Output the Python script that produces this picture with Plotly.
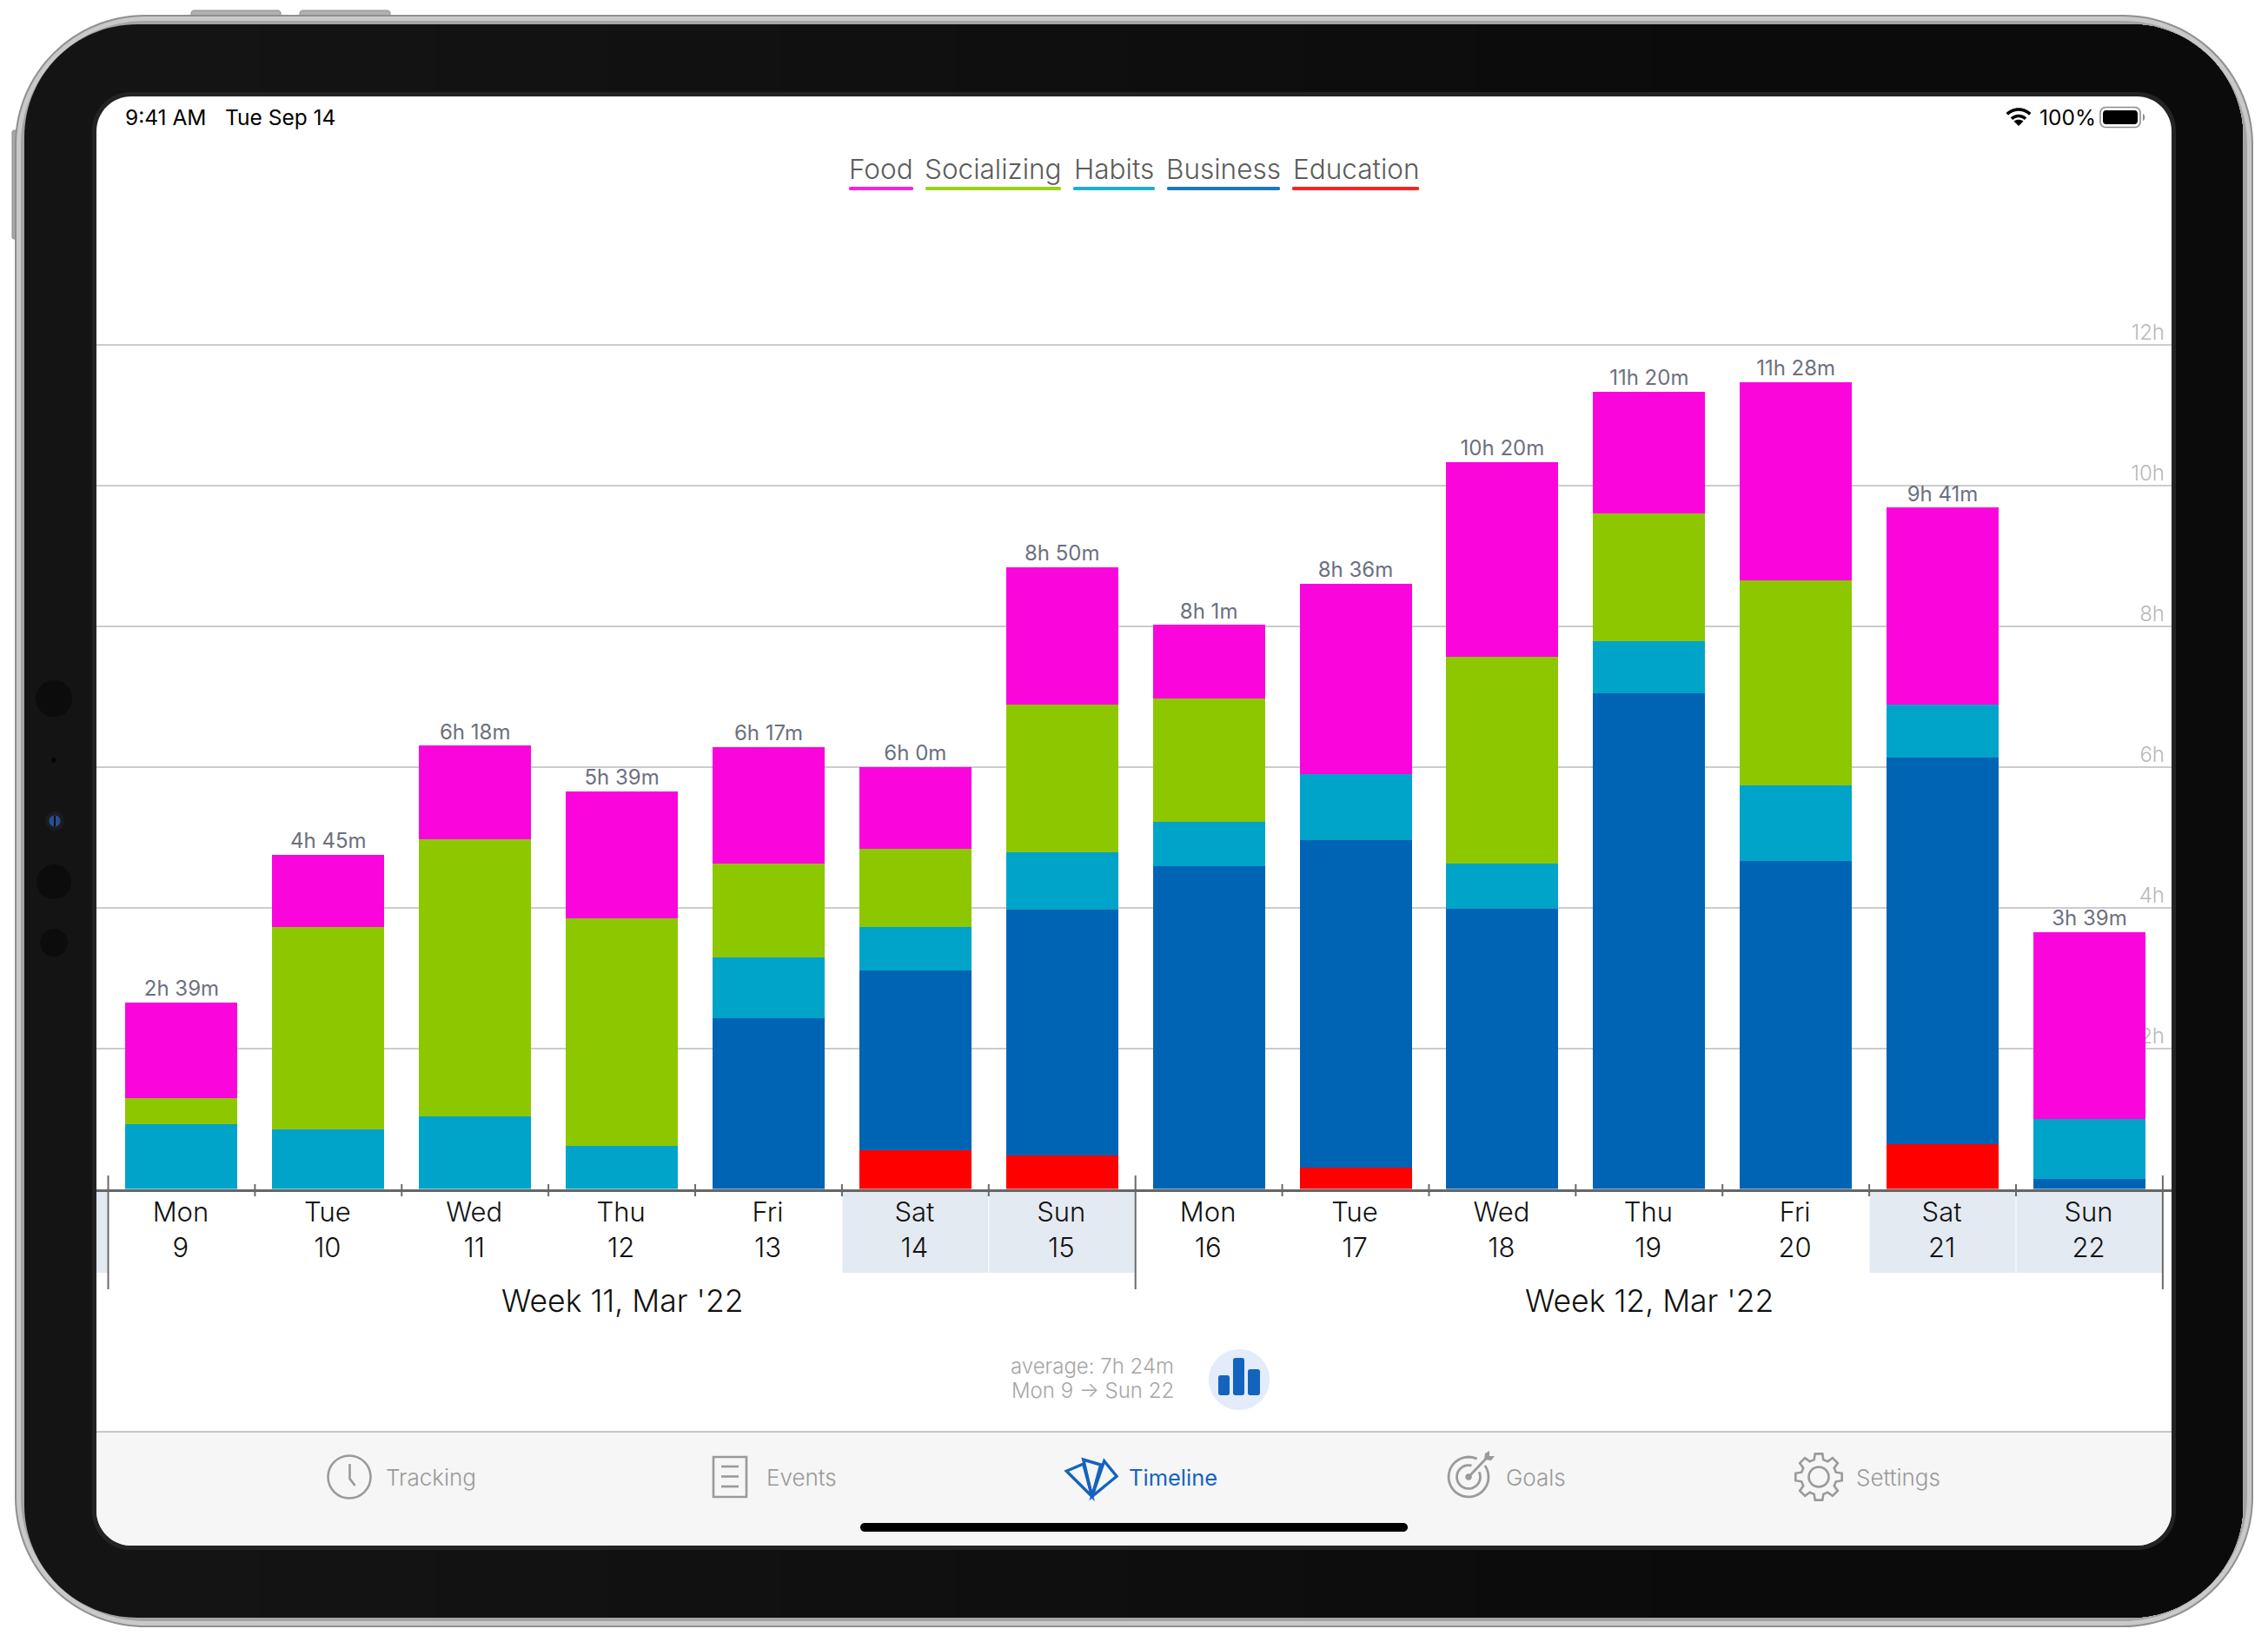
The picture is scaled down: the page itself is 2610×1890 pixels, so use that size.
import re, math
import plotly.graph_objects as go

W, H = 2610, 1890
FONT = "Inter"

days = ["Mon", "Tue", "Wed", "Thu", "Fri", "Sat", "Sun", "Mon", "Tue", "Wed", "Thu", "Fri", "Sat", "Sun"]
dates = [9, 10, 11, 12, 13, 14, 15, 16, 17, 18, 19, 20, 21, 22]
total_labels = ["2h 39m", "4h 45m", "6h 18m", "5h 39m", "6h 17m", "6h 0m", "8h 50m",
                "8h 1m", "8h 36m", "10h 20m", "11h 20m", "11h 28m", "9h 41m", "3h 39m"]
education = [0, 0, 0, 0, 0, 0.555, 0.473, 0, 0.308, 0, 0, 0, 0.637, 0]
business = [0, 0, 0, 0, 2.425, 2.548, 3.493, 4.583, 4.645, 3.987, 7.049, 4.665, 5.487, 0.136]
habits = [0.925, 0.843, 1.03, 0.617, 0.863, 0.617, 0.822, 0.637, 0.945, 0.637, 0.74, 1.069, 0.76, 0.864]
socializing = [0.37, 2.877, 3.94, 3.226, 1.336, 1.11, 2.096, 1.747, 0, 2.939, 1.808, 2.918, 0, 0]
food = [1.355, 1.03, 1.33, 1.807, 1.659, 1.17, 1.949, 1.05, 2.702, 2.77, 1.736, 2.815, 2.799, 2.65]
y_ticks = [2, 4, 6, 8, 10, 12]
y_tick_labels = ["2h", "4h", "6h", "8h", "10h", "12h"]
legend_names = ["Food", "Socializing", "Habits", "Business", "Education"]
legend_colors = ["#FF1EDC", "#9AD219", "#1EB0D2", "#1C78C0", "#FF2020"]
legend_spans = [(977, 1051), (1065, 1221), (1235, 1329), (1343, 1473), (1487, 1633)]
weeks = ["Week 11, Mar '22", "Week 12, Mar '22"]
week_centers = [3, 10]
weekend_idx = [5, 6, 12, 13]
week_bounds = [-0.5, 6.5, 13.5]

categories = [f"{d}<br>{n}" for d, n in zip(days, dates)]


def to_hours(s):
    h, m = s.split()
    return int(h[:-1]) + int(m[:-1]) / 60


totals = [to_hours(s) for s in total_labels]
LABEL_GAP = 0.02  # hours between bar top and its total label

# ---------- pixel helpers for the device frame and icons ----------
def px(x):
    return x / W


def py(y):
    return 1 - y / H


def P(s):
    out, i = [], 0
    for tok in s.split():
        if tok.isalpha():
            out.append(tok)
        else:
            v = float(tok)
            out.append(f"{(px(v) if i % 2 == 0 else py(v)):.6f}")
            i += 1
    return " ".join(out)


def rr(x0, y0, x1, y1, r):
    c = r * 0.4477
    return (f"M {x0+r} {y0} L {x1-r} {y0} C {x1-c} {y0} {x1} {y0+c} {x1} {y0+r} "
            f"L {x1} {y1-r} C {x1} {y1-c} {x1-c} {y1} {x1-r} {y1} "
            f"L {x0+r} {y1} C {x0+c} {y1} {x0} {y1-c} {x0} {y1-r} "
            f"L {x0} {y0+r} C {x0} {y0+c} {x0+c} {y0} {x0+r} {y0} Z")


def right_part(x0, y0, x1, y1, r):
    c = r * 0.4477
    return (f"M {x0} {y0} L {x1-r} {y0} C {x1-c} {y0} {x1} {y0+c} {x1} {y0+r} "
            f"L {x1} {y1-r} C {x1} {y1-c} {x1-c} {y1} {x1-r} {y1} L {x0} {y1} Z")


def circ(cx, cy, r):
    return rr(cx - r, cy - r, cx + r, cy + r, r)


def arc(cx, cy, r, a0, a1, n=28):
    pts = []
    for i in range(n + 1):
        a = math.radians(a0 + (a1 - a0) * i / n)
        pts.append((cx + r * math.sin(a), cy - r * math.cos(a)))
    return "M " + " L ".join(f"{x:.2f} {y:.2f}" for x, y in pts)


def S(path, fill=None, line=None, w=0):
    d = dict(type="path", xref="paper", yref="paper", path=P(path), layer="below",
             line=dict(color=line or "rgba(0,0,0,0)", width=w))
    d["fillcolor"] = fill or "rgba(0,0,0,0)"
    return d


shapes = []
# side buttons
shapes += [S(rr(220, 12, 323, 24, 3), "#b0b0b0", "#8c8c8c", 1),
           S(rr(345, 12, 449, 24, 3), "#b0b0b0", "#8c8c8c", 1),
           S(rr(14, 150, 24, 275, 2), "#a8a8a8", "#8c8c8c", 1)]
# body
shapes += [S(rr(17, 17, 2593, 1873, 150), "#8f8f8f"),
           S(rr(19, 19, 2591, 1871, 148), "#c9c9c9"),
           S(rr(24, 24, 2586, 1866, 143), "#a4a4a4"),
           S(rr(28, 28, 2581, 1862, 130), "#141414")]
# black glass darkens slightly to the right
for step, xk in enumerate(range(300, 2100, 200)):
    level = 0x13 - step
    shapes.append(S(right_part(xk, 28, 2581, 1862, 130), f"#{level:02x}{level:02x}{level:02x}"))
shapes += [S(rr(106, 106, 2504, 1784, 44), "#232323"),
           S(rr(111, 111, 2499, 1779, 40), "#ffffff")]
# bottom bar
shapes.append(S("M 111 1648 L 2499 1648 L 2499 1739 C 2499 1761 2481 1779 2459 1779 "
                "L 151 1779 C 129 1779 111 1761 111 1739 Z", "#f6f6f6"))
shapes.append(S("M 111 1648 L 2499 1648", None, "#b5b5b5", 1.5))
# sensors
for cx, cy, r in [(62, 804, 21), (62, 1015, 20), (62, 1085, 16)]:
    shapes.append(S(circ(cx, cy, r), "#0c0c0c"))
shapes += [S(circ(62, 875, 3), "#060606"), S(circ(63, 945, 11), "#1c1c20"),
           S(circ(63, 945, 6.5), "#24508f"),
           S("M 63 939 L 63 951", None, "#0a0a12", 2)]
# home indicator
shapes.append(S(rr(990, 1753, 1620, 1763, 5), "#000000"))
# status bar icons
shapes += [S(arc(2323, 145, 19, -44, 44), None, "#000000", 3.6),
           S(arc(2323, 145, 11.5, -44, 44), None, "#000000", 3.6),
           S("M 2323 145 L 2317.5 139.5 C 2320.5 137 2325.5 137 2328.5 139.5 Z", "#000000"),
           S(rr(2417, 123.5, 2463, 146.5, 6), None, "#8c8c8c", 1.6),
           S(rr(2420, 127, 2460, 143, 3.5), "#000000"),
           S("M 2466 131 C 2469 132 2469 138 2466 139 Z", "#8c8c8c")]
# mini bar icon
BLUE = "#1464BE"
shapes += [S(circ(1426, 1588, 35), "#E4EBFA"),
           S(rr(1402, 1583, 1415, 1606, 2.5), BLUE),
           S(rr(1419, 1563, 1432, 1606, 2.5), BLUE),
           S(rr(1436, 1576, 1450, 1606, 2.5), BLUE)]
# tab icons
GREY = "#9a9a9a"
shapes += [S(circ(402, 1700, 24.5), None, GREY, 2.6),
           S("M 402.5 1685 L 402.5 1702 L 408.5 1710", None, GREY, 2.6),
           S("M 821 1677 L 859 1677 L 859 1723 L 821 1723 Z", None, GREY, 2.6)]
for y in (1688, 1699.5, 1711):
    shapes.append(S(f"M 830 {y} L 850 {y}", None, GREY, 2.6))
shapes += [S("M 1256.7 1722.5 L 1227.3 1693.3 L 1246.7 1685 Z", None, BLUE, 3.4),
           S("M 1256.7 1722.5 L 1246.7 1680 L 1266.7 1686 Z", None, BLUE, 3.4),
           S("M 1256.7 1722.5 L 1270.7 1681.7 L 1285 1699.3 Z", None, BLUE, 3.4)]
shapes += [S(arc(1690, 1700, 23, 55, 385), None, GREY, 2.8),
           S(arc(1690, 1700, 13.5, 65, 375), None, GREY, 2.8),
           S(circ(1690, 1700, 3.8), GREY),
           S("M 1690 1700 L 1711 1678", None, GREY, 2.8),
           S("M 1708 1680 L 1709 1673 L 1714 1670 L 1714 1676 L 1720 1676 L 1716 1681 Z", GREY)]
gear_pts = []
for t in range(8):
    a = t * 45
    for da, r in [(-15, 20.5), (-9, 27), (9, 27), (15, 20.5)]:
        rad = math.radians(a + da)
        gear_pts.append((2093 + r * math.sin(rad), 1700 - r * math.cos(rad)))
shapes += [S("M " + " L ".join(f"{x:.2f} {y:.2f}" for x, y in gear_pts) + " Z", None, GREY, 2.6),
           S(circ(2093, 1700, 11.5), None, GREY, 2.6)]
# legend underlines
for (x0, x1), c in zip(legend_spans, legend_colors):
    shapes.append(S(rr(x0, 215, x1, 219, 1.5), c))


# weekend backgrounds: x from the axis, vertical extent in page position
def band(x0, x1):
    return dict(type="rect", xref="x", yref="paper", x0=x0, x1=x1, y0=py(1371), y1=py(1465),
                fillcolor="#E4EAF1", line=dict(width=0), layer="below")


shapes.append(band(-0.58, -0.5))
for i in weekend_idx:
    shapes.append(band(i - 0.5 + 0.003, i + 0.5 - 0.003))
# ticks on day boundaries, taller dividers between weeks
for b in range(14 + 1):
    pos = b - 0.5
    tall = pos in week_bounds
    shapes.append(dict(type="line", xref="x", yref="paper", x0=pos, x1=pos,
                       y0=py(1353 if tall else 1363), y1=py(1484 if tall else 1377),
                       line=dict(color="#6a6a6a", width=2), layer="below"))

# ---------- text ----------
def note(text, x, y, size, color, weight=400, anchor="center", xref="paper"):
    return dict(text=text, x=px(x) if xref == "paper" else x, y=py(y), xref=xref, yref="paper",
                showarrow=False, xanchor=anchor, yanchor="middle",
                font=dict(family=FONT, size=size, color=color, weight=weight))


annotations = [
    note("9:41 AM", 142, 134.5, 24.5, "#000000", anchor="left"),
    note("Tue Sep 14", 257, 134.5, 24.5, "#000000", anchor="left"),
    note("100%", 2345, 134.5, 24.5, "#000000", anchor="left"),
    note("average: 7h 24m", 1257, 1572.5, 24, "#a6a6a6", 300),
    note("Mon 9 → Sun 22", 1257, 1600.5, 24, "#a6a6a6", 300),
    note("Tracking", 442, 1700.5, 26, GREY, 300, "left"),
    note("Events", 880, 1700.5, 26, GREY, 300, "left"),
    note("Timeline", 1297, 1700.5, 25.5, BLUE, 400, "left"),
    note("Goals", 1731, 1700.5, 26, GREY, 300, "left"),
    note("Settings", 2134, 1700.5, 26, GREY, 300, "left"),
]
for name, (x0, x1) in zip(legend_names, legend_spans):
    annotations.append(note(name, (x0 + x1) / 2, 195, 31.5, "#5c5c5c", 300))
for w, c in zip(weeks, week_centers):
    annotations.append(note(w, c, 1497, 35.5, "#111111", 300, xref="x"))

# ---------- chart ----------
fig = go.Figure()
series = [("Education", education, "#FF0000"), ("Business", business, "#0064B4"),
          ("Habits", habits, "#01A4C9"), ("Socializing", socializing, "#8DC700"),
          ("Food", food, "#FA05DC")]
for name, vals, col in series:
    fig.add_trace(go.Bar(name=name, x=categories, y=vals, marker=dict(color=col, line=dict(width=0)),
                         showlegend=False))
fig.add_trace(go.Scatter(x=categories, y=[t + LABEL_GAP for t in totals], mode="text", text=total_labels,
                         textposition="top center", cliponaxis=False, showlegend=False,
                         textfont=dict(family=FONT, size=24, color="#6C7080")))

Y_MAX = 12.5
fig.update_layout(
    width=W, height=H, margin=dict(l=0, r=0, t=0, b=0, pad=0),
    paper_bgcolor="#ffffff", plot_bgcolor="rgba(0,0,0,0)",
    barmode="stack", bargap=0.236, showlegend=False,
    shapes=shapes, annotations=annotations, hovermode=False,
    xaxis=dict(domain=[px(111), px(2499)], type="category", categoryorder="array",
               categoryarray=categories, range=[-0.58, 13.56], anchor="y",
               showgrid=False, zeroline=False, showline=True, linecolor="#666666", linewidth=2.5,
               ticks="", ticklabelstandoff=-2, ticklabelshift=-1, tickangle=0,
               tickfont=dict(family=FONT, size=31, color="#111111", weight=300)),
    yaxis=dict(domain=[py(1368.5), py(1368.5 - Y_MAX * 81)], range=[0, Y_MAX], anchor="free", position=px(2499),
               side="right", tickmode="array", tickvals=y_ticks, ticktext=y_tick_labels,
               showgrid=True, gridcolor="#cccccc", gridwidth=1.5, zeroline=False, showline=False,
               ticks="", ticklabelposition="inside", ticklabelshift=-14, ticklabelstandoff=5,
               layer="below traces",
               tickfont=dict(family=FONT, size=24, color="#b8b8b8", weight=300)),
)
fig.write_html("out.html", config=dict(displayModeBar=False),
               post_script="document.body.style.margin='0';")
